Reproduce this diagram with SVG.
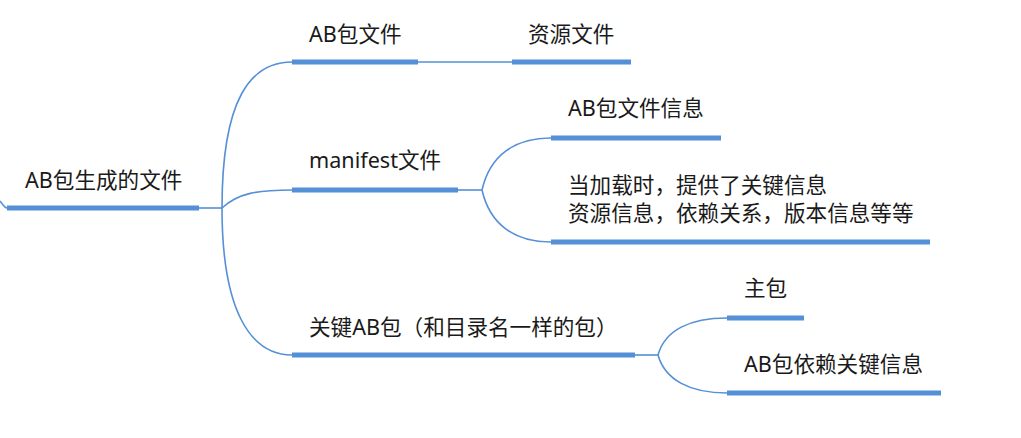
<svg xmlns="http://www.w3.org/2000/svg" width="1021" height="438" viewBox="0 0 1021 438">
<style>
text{font-family:"Noto Sans","Noto Sans CJK SC",sans-serif;font-size:21.6px;fill:#1a1a1a}
.u{stroke:#5590D6;stroke-width:5;fill:none}
.c{stroke:#5590D6;stroke-width:1.6;fill:none}
</style>
<rect width="1021" height="438" fill="#fff"/>
<g id="connectors">
<path class="c" d="M0,201 C3,204 4,208 7,208"/>
<path class="c" d="M199,208 L222,208"/>
<path class="c" d="M222,208 C222,100 250,62 292,62"/>
<path class="c" d="M222,208 C238,193 258,190 292,190"/>
<path class="c" d="M222,208 C222,310 250,355 292,355"/>
<path class="c" d="M418,62 L512,62"/>
<path class="c" d="M458,190 L482,190"/>
<path class="c" d="M482,190 C490,155 515,138 551,138"/>
<path class="c" d="M482,190 C490,225 515,242 551,242"/>
<path class="c" d="M635,355 L658,355"/>
<path class="c" d="M658,355 C665,330 690,318 727,318"/>
<path class="c" d="M658,355 C665,380 690,393 727,393"/>
</g>
<g id="root">
<line class="u" x1="7" y1="208" x2="199" y2="208"/>
<text x="25" y="188">AB包生成的文件</text>
</g>
<g id="ab-file">
<line class="u" x1="292" y1="62" x2="418" y2="62"/>
<text x="309" y="42">AB包文件</text>
</g>
<g id="res-file">
<line class="u" x1="512" y1="62" x2="631" y2="62"/>
<text x="528" y="42">资源文件</text>
</g>
<g id="manifest">
<line class="u" x1="292" y1="190" x2="458" y2="190"/>
<text x="309" y="168">manifest文件</text>
</g>
<g id="ab-info">
<line class="u" x1="551" y1="138" x2="721" y2="138"/>
<text x="568" y="116">AB包文件信息</text>
</g>
<g id="load-info">
<line class="u" x1="551" y1="242" x2="930" y2="242"/>
<text x="568" y="193">当加载时，提供了关键信息</text>
<text x="568" y="221">资源信息，依赖关系，版本信息等等</text>
</g>
<g id="key-ab">
<line class="u" x1="292" y1="355" x2="635" y2="355"/>
<text x="309" y="335">关键AB包（和目录名一样的包）</text>
</g>
<g id="main-pkg">
<line class="u" x1="727" y1="318" x2="804" y2="318"/>
<text x="744" y="296">主包</text>
</g>
<g id="dep-info">
<line class="u" x1="727" y1="393" x2="941" y2="393"/>
<text x="744" y="372">AB包依赖关键信息</text>
</g>
</svg>
